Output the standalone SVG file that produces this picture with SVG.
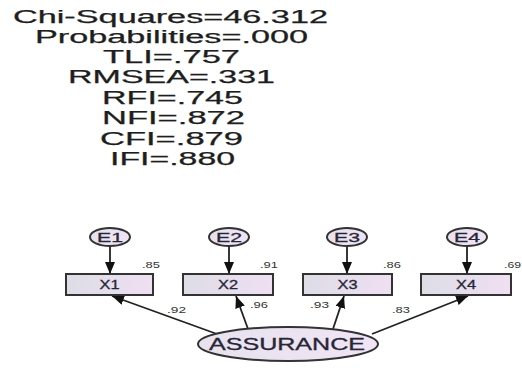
<svg xmlns="http://www.w3.org/2000/svg" width="522" height="372" viewBox="0 0 522 372">
<style>
.fit{font-family:"Liberation Sans",Arial,sans-serif;font-size:18px;fill:#1e1e1e;stroke:#1e1e1e;stroke-width:0.25}
.lbl{font-family:"Liberation Sans",Arial,sans-serif;font-size:12px;fill:#262636;stroke:#262636;stroke-width:0.3;text-anchor:middle}
.num{font-family:"Liberation Sans",Arial,sans-serif;font-size:9.5px;fill:#333}
.box{fill:url(#gbox);stroke:#333;stroke-width:2}
.err{fill:url(#gell);stroke:#333;stroke-width:2}
.lat{fill:url(#gell);stroke:#333;stroke-width:2}
.arr{stroke:#222;stroke-width:1.8;fill:none;marker-end:url(#ah)}
</style>
<defs>
<linearGradient id="gbox" x1="0" y1="0" x2="1" y2="0">
<stop offset="0" stop-color="#dddde6"/>
<stop offset="1" stop-color="#efdff2"/>
</linearGradient>
<linearGradient id="gell" x1="0" y1="0" x2="1" y2="0">
<stop offset="0" stop-color="#e6e2ee"/>
<stop offset="1" stop-color="#f1e4f4"/>
</linearGradient>
<marker id="ah" viewBox="0 0 12 10" refX="12" refY="5" markerWidth="12" markerHeight="10" markerUnits="userSpaceOnUse" orient="auto">
<path d="M0,0 L12,5 L0,10 z" fill="#111"/>
</marker>
</defs>
<rect width="522" height="372" fill="#fff"/>
<g id="fit-stats">
<text class="fit" x="13" y="23" textLength="315" lengthAdjust="spacingAndGlyphs">Chi-Squares=46.312</text>
<text class="fit" x="35" y="43" textLength="273" lengthAdjust="spacingAndGlyphs">Probabilities=.000</text>
<text class="fit" x="103" y="63" textLength="137" lengthAdjust="spacingAndGlyphs">TLI=.757</text>
<text class="fit" x="68" y="83" textLength="207" lengthAdjust="spacingAndGlyphs">RMSEA=.331</text>
<text class="fit" x="102" y="104" textLength="141" lengthAdjust="spacingAndGlyphs">RFI=.745</text>
<text class="fit" x="102" y="124" textLength="143" lengthAdjust="spacingAndGlyphs">NFI=.872</text>
<text class="fit" x="100" y="145" textLength="143" lengthAdjust="spacingAndGlyphs">CFI=.879</text>
<text class="fit" x="110" y="165" textLength="125" lengthAdjust="spacingAndGlyphs">IFI=.880</text>
</g>
<g id="connectors">
<line class="arr" x1="110" y1="246" x2="110" y2="274"/>
<line class="arr" x1="229" y1="246" x2="229" y2="274"/>
<line class="arr" x1="347" y1="246" x2="347" y2="274"/>
<line class="arr" x1="467" y1="246" x2="467" y2="274"/>
<line class="arr" x1="217" y1="334" x2="112" y2="296"/>
<line class="arr" x1="248" y1="329" x2="236" y2="296"/>
<line class="arr" x1="333" y1="329" x2="344" y2="296"/>
<line class="arr" x1="372" y1="334" x2="468" y2="296"/>
<text class="num" x="142" y="268" textLength="18" lengthAdjust="spacingAndGlyphs">.85</text>
<text class="num" x="260" y="268" textLength="18" lengthAdjust="spacingAndGlyphs">.91</text>
<text class="num" x="383" y="268" textLength="18" lengthAdjust="spacingAndGlyphs">.86</text>
<text class="num" x="504" y="268" textLength="17" lengthAdjust="spacingAndGlyphs">.69</text>
<text class="num" x="167" y="313" textLength="19" lengthAdjust="spacingAndGlyphs">.92</text>
<text class="num" x="250" y="308" textLength="18" lengthAdjust="spacingAndGlyphs">.96</text>
<text class="num" x="310" y="308" textLength="19" lengthAdjust="spacingAndGlyphs">.93</text>
<text class="num" x="392" y="313" textLength="18" lengthAdjust="spacingAndGlyphs">.83</text>
</g>
<g id="E1"><ellipse class="err" cx="110" cy="237" rx="20" ry="9"/><text class="lbl" x="110" y="242" style="font-size:13px" textLength="26" lengthAdjust="spacingAndGlyphs">E1</text></g>
<g id="E2"><ellipse class="err" cx="229" cy="237" rx="20" ry="9"/><text class="lbl" x="229" y="242" style="font-size:13px" textLength="26" lengthAdjust="spacingAndGlyphs">E2</text></g>
<g id="E3"><ellipse class="err" cx="347" cy="237" rx="20" ry="9"/><text class="lbl" x="347" y="242" style="font-size:13px" textLength="26" lengthAdjust="spacingAndGlyphs">E3</text></g>
<g id="E4"><ellipse class="err" cx="467" cy="237" rx="20" ry="9"/><text class="lbl" x="467" y="242" style="font-size:13px" textLength="26" lengthAdjust="spacingAndGlyphs">E4</text></g>
<g id="X1"><rect class="box" x="66" y="274" width="87" height="21"/><text class="lbl" x="109.5" y="289" textLength="20" lengthAdjust="spacingAndGlyphs">X1</text></g>
<g id="X2"><rect class="box" x="183" y="274" width="90" height="21"/><text class="lbl" x="228" y="289" textLength="20" lengthAdjust="spacingAndGlyphs">X2</text></g>
<g id="X3"><rect class="box" x="303" y="274" width="89" height="21"/><text class="lbl" x="347.5" y="289" textLength="20" lengthAdjust="spacingAndGlyphs">X3</text></g>
<g id="X4"><rect class="box" x="421" y="274" width="90" height="21"/><text class="lbl" x="466" y="289" textLength="20" lengthAdjust="spacingAndGlyphs">X4</text></g>
<g id="ASSURANCE"><ellipse class="lat" cx="288" cy="344" rx="90" ry="17"/><text class="lbl" x="287" y="350" style="font-size:16px" textLength="156" lengthAdjust="spacingAndGlyphs">ASSURANCE</text></g>
</svg>
